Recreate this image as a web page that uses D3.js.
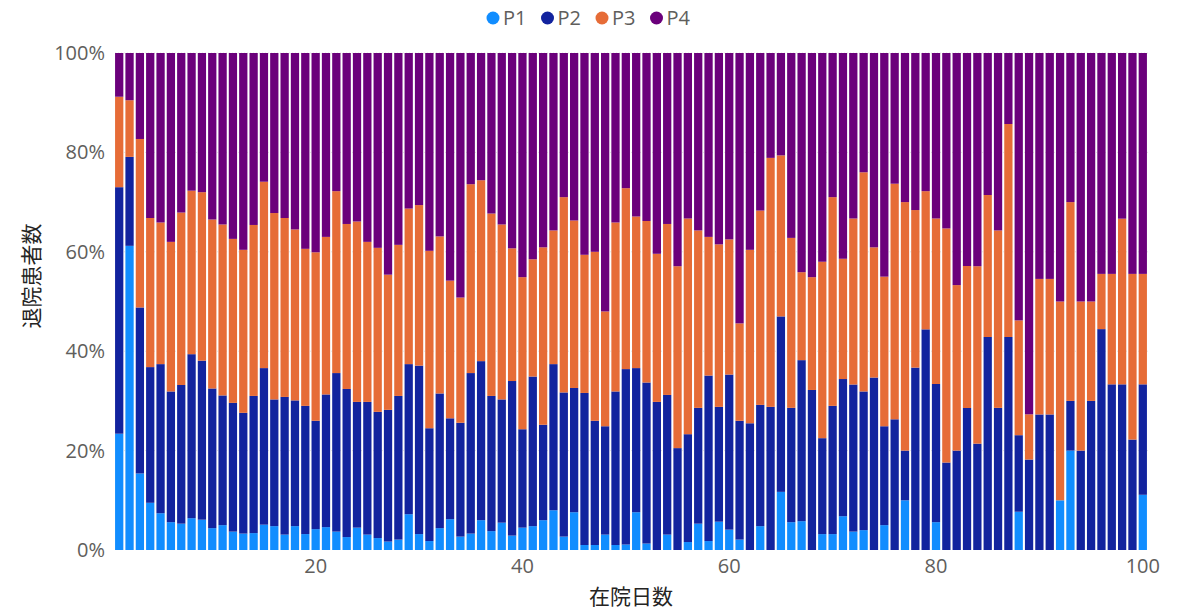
<!DOCTYPE html>
<html>
<head>
<meta charset="utf-8">
<script src="https://cdn.jsdelivr.net/npm/d3@7"></script>
<style>
  body { margin: 0; background: #fff; }
  text { font-family: "Open Sans", "Noto Sans CJK JP", sans-serif; }
</style>
</head>
<body>
<div id="chart"></div>
<script>
// days in hospital (categories)
var days = d3.range(1, 101);
var seriesNames = ['P1', 'P2', 'P3', 'P4'];
var colors = ['#118DFF', '#12239E', '#E66C37', '#6B007B'];
var xTicks = [20, 40, 60, 80, 100];
var yTicks = [0, 0.2, 0.4, 0.6, 0.8, 1];

// share of discharged patients per day, in %
var p1 = [23.4,61.2,15.4,9.5,7.4,5.6,5.3,6.4,6.1,4.4,
  5.0,3.7,3.3,3.4,5.1,4.8,3.1,4.8,3.2,4.2,
  4.6,3.7,2.6,4.5,3.1,2.4,1.7,2.1,7.2,3.2,
  1.8,4.4,6.2,2.7,3.3,6.0,3.8,5.5,2.9,4.5,
  4.8,6.0,8.0,2.7,7.6,1.0,1.0,3.1,1.0,1.1,
  7.6,1.3,0,3.1,0,1.6,5.3,1.8,5.7,4.1,
  2.1,0,4.8,0,11.7,5.6,5.8,0,3.2,3.2,
  6.8,3.7,4.0,0,5.0,0,10.0,0,0,5.6,
  0,0,0,0,0,0,0,7.7,0,0,
  0,10,20,0,0,0,0,0,0,11.1];
var p2 = [49.6,17.9,33.4,27.3,30.0,26.3,27.9,33.0,32.0,28.1,
  26.1,25.9,24.3,27.6,31.5,25.5,27.7,25.3,25.8,21.8,
  26.7,31.9,29.8,25.3,26.7,25.4,26.5,28.9,30.2,33.9,
  22.7,27.1,20.3,22.9,32.3,32.0,27.2,24.8,31.1,19.8,
  30.1,19.2,29.4,29.0,25.0,30.6,25.0,21.8,30.9,35.3,
  29.0,32.4,29.8,28.1,20.5,21.7,23.3,33.3,23.1,31.2,
  23.9,25.5,24.4,28.8,35.3,23.0,32.4,32.2,19.3,25.8,
  27.6,29.6,27.9,34.7,19.9,26.3,10.0,36.7,44.4,27.8,
  17.6,20.0,28.6,21.4,42.9,28.6,42.9,15.4,18.2,27.3,
  27.3,0,10,20,30,44.4,33.3,33.3,22.2,22.2];
var p3 = [18.2,11.4,33.9,30.0,28.5,30.1,34.7,32.9,33.9,34.0,
  34.4,33.0,32.8,34.4,37.5,37.5,36.0,34.4,31.6,33.9,
  31.7,36.6,33.2,36.3,32.2,33.0,27.2,30.4,31.3,32.3,
  35.7,31.6,27.7,25.2,38.0,36.4,36.7,35.2,26.7,30.6,
  23.6,35.7,26.9,39.3,33.7,27.8,34.0,23.1,34.0,36.4,
  30.5,32.5,29.8,34.4,36.6,43.4,35.7,27.9,32.7,27.2,
  19.6,34.9,39.1,50.1,32.4,34.2,17.7,22.7,35.5,42.0,
  24.2,33.4,44.1,26.2,30.1,47.4,50.0,31.7,27.8,33.3,
  47.1,33.3,28.6,35.7,28.6,35.7,42.9,23.1,9.1,27.3,
  27.3,40,40,30,20,11.1,22.2,33.3,33.3,22.2];
var p4 = [8.8,9.5,17.3,33.2,34.1,38.0,32.1,27.7,28.0,33.5,
  34.5,37.4,39.6,34.6,25.9,32.2,33.2,35.5,39.4,40.1,
  37.0,27.8,34.4,33.9,38.0,39.2,44.6,38.6,31.3,30.6,
  39.8,36.9,45.8,49.2,26.4,25.6,32.3,34.5,39.3,45.1,
  41.5,39.1,35.7,29.0,33.7,40.6,40.0,52.0,34.1,27.2,
  32.9,33.8,40.4,34.4,42.9,33.3,35.7,37.0,38.5,37.5,
  54.4,39.6,31.7,21.1,20.6,37.2,44.1,45.1,42.0,29.0,
  41.4,33.3,24.0,39.1,45.0,26.3,30.0,31.6,27.8,33.3,
  35.3,46.7,42.9,42.9,28.6,35.7,14.3,53.8,72.7,45.5,
  45.5,50,30,50,50,44.4,44.4,33.3,44.4,44.4];

var W = 1183, H = 610;
var svg = d3.select('#chart').append('svg')
  .attr('width', W)
  .attr('height', H);

var table = days.map(function(d, i) {
  return {day: d, P1: p1[i], P2: p2[i], P3: p3[i], P4: p4[i]};
});

var stacked = d3.stack()
  .keys(seriesNames)
  .offset(d3.stackOffsetExpand)(table);

var x = d3.scaleBand()
  .domain(days)
  .range([113, 1149])
  .padding(0.2);
var y = d3.scaleLinear()
  .domain([0, 1])
  .range([550, 53]);

// gridlines
svg.append('g')
  .selectAll('line')
  .data(yTicks.slice(1))
  .enter().append('line')
  .attr('x1', 115).attr('x2', 1148)
  .attr('y1', function(d) { return y(d); })
  .attr('y2', function(d) { return y(d); })
  .style('stroke', '#e4e4e4')
  .style('stroke-dasharray', '1,2');

// bars
svg.append('g')
  .selectAll('g')
  .data(stacked)
  .enter().append('g')
  .style('fill', function(d, i) { return colors[i]; })
  .selectAll('rect')
  .data(function(d) { return d; })
  .enter().append('rect')
  .attr('x', function(d) { return x(d.data.day); })
  .attr('width', x.bandwidth())
  .attr('y', function(d) { return y(d[1]); })
  .attr('height', function(d) { return y(d[0]) - y(d[1]); });

// y axis
var yAxis = svg.append('g')
  .attr('transform', 'translate(108,0)')
  .call(d3.axisLeft(y).tickValues(yTicks).tickFormat(d3.format('.0%')).tickSize(0));
yAxis.select('.domain').remove();
yAxis.selectAll('text')
  .style('font-size', '20px')
  .style('fill', '#605E5C');

// x axis
var xAxis = svg.append('g')
  .attr('transform', 'translate(0,556)')
  .call(d3.axisBottom(x).tickValues(xTicks).tickSize(0));
xAxis.select('.domain').remove();
xAxis.selectAll('text')
  .style('font-size', '20px')
  .style('fill', '#605E5C');

// axis titles
svg.append('text')
  .text('在院日数')
  .attr('x', 631)
  .attr('y', 604)
  .attr('text-anchor', 'middle')
  .style('font-size', '21px')
  .style('fill', '#252423');

svg.append('text')
  .text('退院患者数')
  .attr('transform', 'translate(39,276) rotate(-90)')
  .attr('text-anchor', 'middle')
  .style('font-size', '21px')
  .style('fill', '#252423');

// legend
var legend = svg.append('g')
  .selectAll('g')
  .data(seriesNames)
  .enter().append('g')
  .attr('transform', function(d, i) { return 'translate(' + (493 + i * 54.5) + ',18)'; });
legend.append('circle')
  .attr('r', 6.5)
  .style('fill', function(d, i) { return colors[i]; });
legend.append('text')
  .text(function(d) { return d; })
  .attr('x', 10)
  .attr('dy', '0.35em')
  .style('font-size', '20px')
  .style('fill', '#605E5C');
</script>
</body>
</html>
